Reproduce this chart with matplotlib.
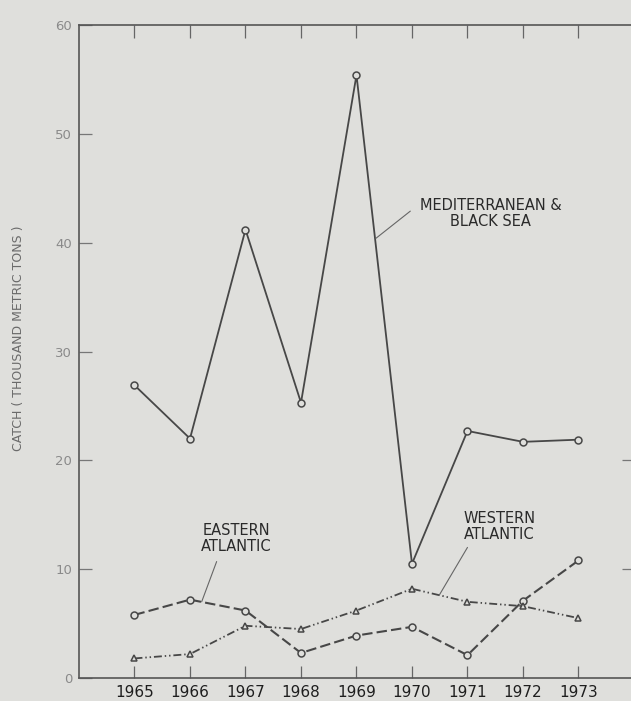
import numpy as np
import matplotlib.pyplot as plt

years = [1965, 1966, 1967, 1968, 1969, 1970, 1971, 1972, 1973]
mediterranean = [26.9, 22.0, 41.2, 25.3, 55.4, 10.5, 22.7, 21.7, 21.9]
eastern = [5.8, 7.2, 6.2, 2.3, 3.9, 4.7, 2.1, 7.1, 10.8]
western = [1.8, 2.2, 4.8, 4.5, 6.2, 8.2, 7.0, 6.6, 5.5]

bg = "#dfdfdc"
ink = "#474747"

fig = plt.figure(figsize=(6.31, 7.01), dpi=100, facecolor=bg)
ax = fig.add_axes([0.1252, 0.0328, 0.8795, 0.9315], facecolor=bg)

ax.plot(years, mediterranean, color=ink, lw=1.3, marker="o", ms=5,
        mfc=bg, mec=ink, mew=1.1)
ax.plot(years, eastern, color=ink, lw=1.5, dashes=(5, 2), marker="o", ms=5,
        mfc=bg, mec=ink, mew=1.1)
ax.plot(years, western, color=ink, lw=1.3, dashes=(4.4, 1.6, 0.8, 1.6, 0.8, 1.6),
        marker="^", ms=5, mfc=bg, mec=ink, mew=1.1)

ax.set_xlim(1964, 1974)
ax.set_ylim(0, 60)
ax.set_xticks(years)
ax.set_yticks(range(0, 61, 10))

for s in ax.spines.values():
    s.set_color("#555555")
    s.set_linewidth(1.2)

ax.tick_params(axis="x", direction="in", length=9, width=0.9, color="#666666",
               top=True, labelsize=11, labelcolor="#1e1e1e", pad=5)
ax.tick_params(axis="y", direction="in", length=9, width=0.9, color="#777777",
               right=False, labelsize=9.5, labelcolor="#8a8a8a", pad=5)

# short inner ticks on the right edge
ax2 = ax.twinx()
ax2.set_ylim(0, 60)
ax2.set_yticks([10, 20])
ax2.set_yticklabels([])
ax2.tick_params(axis="y", direction="in", length=9, width=0.9, color="#777777")
for s in ax2.spines.values():
    s.set_visible(False)

ax.set_ylabel("CATCH ( THOUSAND METRIC TONS )", fontsize=9, color="#6a6a6a")
ax.yaxis.set_label_coords(-0.098, 0.52)

lead = dict(arrowstyle="-", color="#666666", lw=0.8, shrinkA=0, shrinkB=0)
ax.annotate("", xy=(1969.35, 40.4), xytext=(1969.97, 42.9), arrowprops=lead)
ax.text(1971.42, 42.7, "MEDITERRANEAN &\nBLACK SEA", ha="center", va="center",
        fontsize=10.5, color="#2a2a2a", linespacing=1.05)

ax.annotate("", xy=(1966.21, 7.0), xytext=(1966.48, 10.7), arrowprops=lead)
ax.text(1966.83, 12.8, "EASTERN\nATLANTIC", ha="center", va="center",
        fontsize=10.5, color="#2a2a2a", linespacing=1.05)

ax.annotate("", xy=(1970.49, 7.6), xytext=(1971.0, 12.0), arrowprops=lead)
ax.text(1971.58, 13.9, "WESTERN\nATLANTIC", ha="center", va="center",
        fontsize=10.5, color="#2a2a2a", linespacing=1.05)

fig.savefig("out.png", dpi=100, facecolor=bg)
